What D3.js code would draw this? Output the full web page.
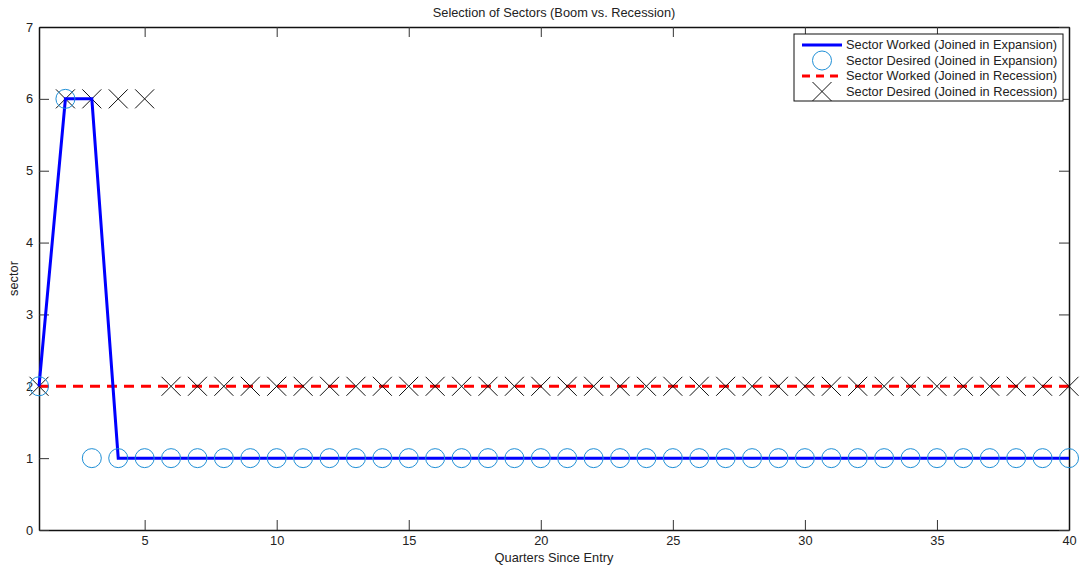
<!DOCTYPE html>
<html>
<head>
<meta charset="utf-8">
<script src="https://cdn.jsdelivr.net/npm/d3@7"></script>
<style>
  body { margin: 0; background: #fff; }
  text { font-family: "Liberation Sans", Arial, sans-serif; fill: #222; }
</style>
</head>
<body>
<div id="chart"></div>
<script>
const quarters = d3.range(1, 41);
const workedExpansion = [2, 6, 6, 1, 1, 1, 1, 1, 1, 1, 1, 1, 1, 1, 1, 1, 1, 1, 1, 1, 1, 1, 1, 1, 1, 1, 1, 1, 1, 1, 1, 1, 1, 1, 1, 1, 1, 1, 1, 1];
const desiredExpansion = [2, 6, 1, 1, 1, 1, 1, 1, 1, 1, 1, 1, 1, 1, 1, 1, 1, 1, 1, 1, 1, 1, 1, 1, 1, 1, 1, 1, 1, 1, 1, 1, 1, 1, 1, 1, 1, 1, 1, 1];
const workedRecession = [2, 2, 2, 2, 2, 2, 2, 2, 2, 2, 2, 2, 2, 2, 2, 2, 2, 2, 2, 2, 2, 2, 2, 2, 2, 2, 2, 2, 2, 2, 2, 2, 2, 2, 2, 2, 2, 2, 2, 2];
const desiredRecession = [2, 6, 6, 6, 6, 2, 2, 2, 2, 2, 2, 2, 2, 2, 2, 2, 2, 2, 2, 2, 2, 2, 2, 2, 2, 2, 2, 2, 2, 2, 2, 2, 2, 2, 2, 2, 2, 2, 2, 2];
const xTicks = [5, 10, 15, 20, 25, 30, 35, 40];
const yTicks = [0, 1, 2, 3, 4, 5, 6, 7];
const legendLabels = [
  "Sector Worked (Joined in Expansion)",
  "Sector Desired (Joined in Expansion)",
  "Sector Worked (Joined in Recession)",
  "Sector Desired (Joined in Recession)"
];

const width = 1082, height = 569;
const margin = { top: 27, right: 13, bottom: 39, left: 39 };
const innerWidth = width - margin.left - margin.right;
const innerHeight = height - margin.top - margin.bottom;
const fontSize = 12.8;

const blue = "#0000ff", red = "#ff0000", circleColor = "#1f8fd6", xColor = "#111";

const svg = d3.select("#chart").append("svg").attr("width", width).attr("height", height);
const chart = svg.append("g").attr("transform", `translate(${margin.left},${margin.top})`);

const xScale = d3.scaleLinear().domain([1, 40]).range([0, innerWidth]);
const yScale = d3.scaleLinear().domain([0, 7]).range([innerHeight, 0]);

// axes, ticks inward and mirrored on top/right
const xAxis = d3.axisBottom(xScale).tickValues(xTicks).tickFormat(d3.format("d"))
  .tickSizeInner(-10).tickSizeOuter(0).tickPadding(6);
const yAxis = d3.axisLeft(yScale).tickValues(yTicks).tickFormat(d3.format("d"))
  .tickSizeInner(-10).tickSizeOuter(0).tickPadding(6);
const xAxisTop = d3.axisTop(xScale).tickValues(xTicks).tickSizeInner(-10).tickSizeOuter(0).tickFormat("");
const yAxisRight = d3.axisRight(yScale).tickValues(yTicks).tickSizeInner(-10).tickSizeOuter(0).tickFormat("");

function styleAxis(g) {
  g.select(".domain").attr("stroke", "#111").attr("stroke-width", 1.5);
  g.selectAll(".tick line").attr("stroke", "#333").attr("stroke-width", 1);
  g.selectAll(".tick text").attr("font-size", fontSize).attr("fill", "#222")
    .attr("font-family", "Liberation Sans, Arial, sans-serif");
}

chart.append("g").attr("transform", `translate(0,${innerHeight})`).call(xAxis).call(styleAxis);
chart.append("g").call(yAxis).call(styleAxis);
chart.append("g").call(xAxisTop).call(styleAxis);
chart.append("g").attr("transform", `translate(${innerWidth},0)`).call(yAxisRight).call(styleAxis);

const line = d3.line().x(d => xScale(d.q)).y(d => yScale(d.v));
const toPts = arr => arr.map((v, i) => ({ q: quarters[i], v }));

// red dashed (recession worked)
chart.append("path").datum(toPts(workedRecession))
  .attr("d", line).attr("fill", "none").attr("stroke", red)
  .attr("stroke-width", 3).attr("stroke-dasharray", "10,7");

// X markers (recession desired)
const xSize = 9.5;
function xPath(cx, cy, s) {
  return `M${cx - s},${cy - s}L${cx + s},${cy + s}M${cx - s},${cy + s}L${cx + s},${cy - s}`;
}
chart.append("g").selectAll("path").data(toPts(desiredRecession)).join("path")
  .attr("d", d => xPath(xScale(d.q), yScale(d.v), xSize))
  .attr("stroke", xColor).attr("stroke-width", 1).attr("fill", "none");

// blue solid (expansion worked)
chart.append("path").datum(toPts(workedExpansion))
  .attr("d", line).attr("fill", "none").attr("stroke", blue)
  .attr("stroke-width", 3).attr("stroke-linejoin", "miter");

// circles (expansion desired)
chart.append("g").selectAll("circle").data(toPts(desiredExpansion)).join("circle")
  .attr("cx", d => xScale(d.q)).attr("cy", d => yScale(d.v)).attr("r", 9.5)
  .attr("fill", "none").attr("stroke", circleColor).attr("stroke-width", 1);

// title and labels
svg.append("text").attr("x", margin.left + innerWidth / 2).attr("y", 17)
  .attr("text-anchor", "middle").attr("font-size", fontSize).text("Selection of Sectors (Boom vs. Recession)");
svg.append("text").attr("x", margin.left + innerWidth / 2).attr("y", 562)
  .attr("text-anchor", "middle").attr("font-size", fontSize).text("Quarters Since Entry");
svg.append("text").attr("transform", `translate(18,${margin.top + innerHeight / 2}) rotate(-90)`)
  .attr("text-anchor", "middle").attr("font-size", fontSize).text("sector");

// legend
const legend = svg.append("g").attr("transform", "translate(794,34)");
legend.append("rect").attr("width", 269).attr("height", 67)
  .attr("fill", "#fff").attr("stroke", "#111").attr("stroke-width", 1);
const rowY = i => 11 + i * 15.5;
legend.append("line").attr("x1", 8).attr("x2", 48).attr("y1", rowY(0)).attr("y2", rowY(0))
  .attr("stroke", blue).attr("stroke-width", 3);
legend.append("circle").attr("cx", 28).attr("cy", rowY(1)).attr("r", 9.5)
  .attr("fill", "none").attr("stroke", circleColor);
legend.append("line").attr("x1", 8).attr("x2", 48).attr("y1", rowY(2)).attr("y2", rowY(2))
  .attr("stroke", red).attr("stroke-width", 3).attr("stroke-dasharray", "8,6");
legend.append("path").attr("d", xPath(28, rowY(3), xSize)).attr("stroke", xColor).attr("fill", "none");
legend.selectAll("text.lbl").data(legendLabels).join("text").attr("class", "lbl")
  .attr("x", 52).attr("y", (d, i) => rowY(i)).attr("dy", "0.35em")
  .attr("font-size", fontSize).text(d => d);
</script>
</body>
</html>
